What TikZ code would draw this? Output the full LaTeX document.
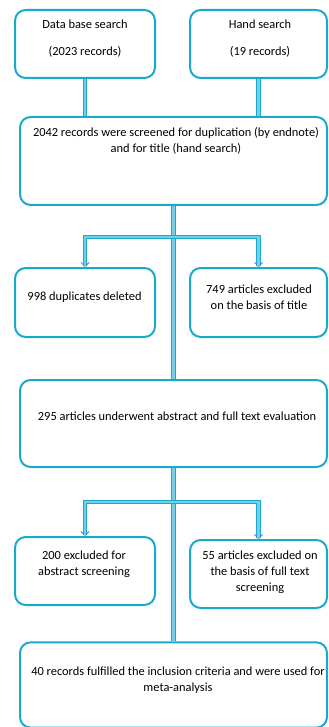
\documentclass[tikz,border=0pt]{standalone}
\usepackage{fontspec}
\setmainfont{Carlito}
\usetikzlibrary{arrows.meta}
\definecolor{boxline}{RGB}{24,170,204}
\definecolor{pipefill}{RGB}{120,206,230}
\definecolor{tipblue}{RGB}{70,125,195}
\begin{document}
\begin{tikzpicture}[x=0.75pt,y=-0.75pt,
  box/.style={draw=boxline,line width=1.5pt,rounded corners=8pt,inner sep=0pt},
  txt/.style={align=center,inner sep=0pt,font=\fontsize{9.3}{12}\selectfont},
  pipe/.style={draw=boxline,line width=3.2pt,postaction={draw=pipefill,line width=2pt,-}},
  pipetip/.style={pipe,-{Straight Barb[length=3pt,width=6pt,line width=0.6pt,color=tipblue]}}]
\useasboundingbox (0,0) rectangle (328,727);
% sources
\node[box,minimum width=105pt,minimum height=51pt] (dbbox) at (85,44) {};
\node[txt] (dbtxt) at (85,38.5) {Data base search\\[8.25pt](2023 records)};
\node[box,minimum width=102.75pt,minimum height=51pt] (hsbox) at (258.5,44) {};
\node[txt] (hstxt) at (260,38.5) {Hand search\\[8.25pt](19 records)};
% screening
\node[box,minimum width=230.25pt,minimum height=66pt] (scrbox) at (173.5,161) {};
\node[txt] (scrtxt) at (176,141) {2042 records were screened for duplication (by endnote)\\and for title (hand search)};
\node[box,minimum width=105pt,minimum height=51.75pt] (dupbox) at (85,302.5) {};
\node[txt] (duptxt) at (84.5,297) {998 duplicates deleted};
\node[box,minimum width=102.75pt,minimum height=51.75pt] (titbox) at (258.5,302.5) {};
\node[txt] (tittxt) at (259,297) {749 articles excluded\\on the basis of title};
% evaluation
\node[box,minimum width=230.25pt,minimum height=65.25pt] (evalbox) at (173.5,423.5) {};
\node[txt] (evaltxt) at (177,416) {295 articles underwent abstract and full text evaluation};
\node[box,minimum width=105pt,minimum height=51pt] (absbox) at (85,571) {};
\node[txt] (abstxt) at (84,564) {200 excluded for\\abstract screening};
\node[box,minimum width=102.75pt,minimum height=51pt] (fullbox) at (258.5,574) {};
\node[txt] (fulltxt) at (260,572) {55 articles excluded on\\the basis of full text\\screening};
\node[box,minimum width=230.25pt,minimum height=64pt] (metabox) at (173.5,685) {};
\node[txt] (metatxt) at (178,680) {40 records fulfilled the inclusion criteria and were used for\\meta-analysis};
% connectors
\draw[pipe] (dbbox.south) -- (dbbox.south |- scrbox.north);
\draw[pipe] (hsbox.south) -- (hsbox.south |- scrbox.north);
\coordinate (split1) at (scrbox.south |- 0,237);
\coordinate (split2) at (evalbox.south |- 0,502);
\draw[pipe] (scrbox.south) -- (evalbox.north);
\draw[pipe] (evalbox.south) -- (metabox.north);
\draw[pipetip] (split1) -| (dupbox.north);
\draw[pipetip] (split1) -| (titbox.north);
\draw[pipetip] (split2) -| (absbox.north);
\draw[pipetip] (split2) -| (fullbox.north);
\end{tikzpicture}
\end{document}
